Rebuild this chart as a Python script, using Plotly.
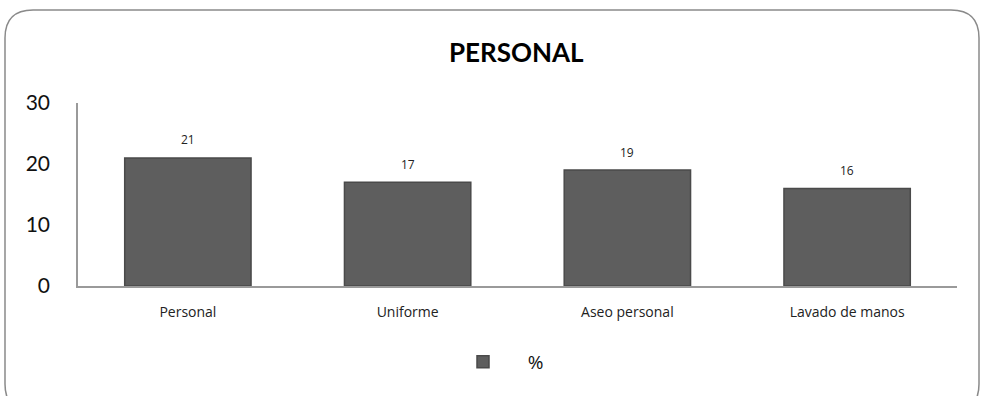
import plotly.graph_objects as go

categories = ["Personal", "Uniforme", "Aseo personal", "Lavado de manos"]
values = [21, 17, 19, 16]
series_name = "%"
y_ticks = [0, 10, 20, 30]

W, H = 982, 396
L, R, T, B = 78, 25, 103, 110
pw, ph = W - L - R, H - T - B


def px_to_paper(x, y):
    return (x - L) / pw, (H - B - y) / ph


def rounded_rect_path(x0, y0, x1, y1, r):
    def p(x, y):
        a, b = px_to_paper(x, y)
        return f"{a:.5f},{b:.5f}"
    path = f"M{p(x0 + r, y0)} L{p(x1 - r, y0)} Q{p(x1, y0)} {p(x1, y0 + r)} "
    path += f"L{p(x1, y1 - r)} Q{p(x1, y1)} {p(x1 - r, y1)} "
    path += f"L{p(x0 + r, y1)} Q{p(x0, y1)} {p(x0, y1 - r)} "
    path += f"L{p(x0, y0 + r)} Q{p(x0, y0)} {p(x0 + r, y0)} Z"
    return path


fig = go.Figure()
fig.add_trace(go.Bar(
    x=categories,
    y=values,
    name="&nbsp;&nbsp;&nbsp;&nbsp;&nbsp;" + series_name,
    width=0.575,
    marker=dict(color="#5e5e5e", line=dict(color="#4a4a4a", width=1.5)),
    showlegend=True,
))

annotations = [
    dict(x=c, y=v, text=str(v), showarrow=False, yshift=18, xref="x", yref="y",
         font=dict(family="Open Sans, Lato, sans-serif", size=12, color="#222"))
    for c, v in zip(categories, values)
]
annotations.append(dict(
    text="<b>PERSONAL</b>", x=(516 - L) / pw, xref="paper", y=(H - B - 52) / ph, yref="paper",
    xanchor="center", yanchor="middle", showarrow=False,
    font=dict(family="Lato, Open Sans, sans-serif", size=26, color="#000"),
))

fig.update_layout(
    width=W, height=H,
    margin=dict(l=L, r=R, t=T, b=B),
    paper_bgcolor="white", plot_bgcolor="white",
    annotations=annotations,
    shapes=[dict(type="path", xref="paper", yref="paper",
                 path=rounded_rect_path(5, 10, 979, 412, 28),
                 line=dict(color="#8a8a8a", width=1.5), layer="below")],
    xaxis=dict(
        showline=True, linecolor="#9a9a9a", linewidth=1.5,
        ticks="", showgrid=False, ticklabelstandoff=12,
        tickfont=dict(family="Open Sans, Lato, sans-serif", size=14, color="#222"),
    ),
    yaxis=dict(
        range=[0, 30], tickvals=y_ticks, showline=True, linecolor="#9a9a9a",
        linewidth=1.5, ticks="", showgrid=False, zeroline=False,
        tickfont=dict(family="Lato, Open Sans, sans-serif", size=21, color="#111"),
        ticklabelstandoff=22,
    ),
    legend=dict(
        orientation="h", x=(463 - L) / pw, xanchor="left", y=-(362 - (H - B)) / ph,
        yanchor="middle", font=dict(family="Open Sans, Lato, sans-serif", size=19, color="#111"),
        itemwidth=30,
    ),
)

fig.write_html("out.html")
